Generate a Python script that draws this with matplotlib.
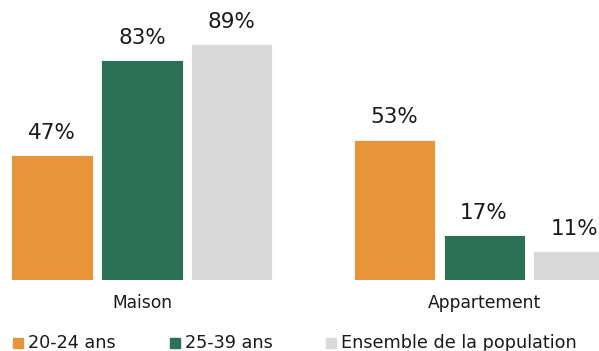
import numpy as np
import matplotlib.pyplot as plt
from matplotlib.patches import Rectangle

categories = ["Maison", "Appartement"]
series = ["20-24 ans", "25-39 ans", "Ensemble de la population"]
values_20_24 = [47, 53]
values_25_39 = [83, 17]
values_all = [89, 11]
colors = ["#E8943B", "#2A7155", "#D9D9D9"]

plt.rcParams['font.family'] = ['DejaVu Sans']

fig = plt.figure(figsize=(5.99, 3.51), dpi=100)
ax = fig.add_axes([0, 0.2023, 1, 0.7977])

x = np.arange(len(categories))
step = 0.263
width = 0.237
for i, (vals, col) in enumerate(zip([values_20_24, values_25_39, values_all], colors)):
    pos = x + (i - 1) * step
    ax.bar(pos, vals, width=width, color=col, edgecolor="white", linewidth=0.6)
    for p, v in zip(pos, vals):
        ax.text(p, v + 4.6, f"{v}%", ha="center", va="bottom", fontsize=15.5,
                color="#1a1a1a")

ax.set_xlim(-0.415, 1.336)
ax.set_ylim(0, 105.7)
ax.axis("off")

# category labels under each group
for xi, c in zip(x, categories):
    ax.text(xi, -8.7, c, ha="center", va="center", fontsize=12.3, color="#1a1a1a")

# legend along the bottom
legend_x = [13, 170, 326]
for lx, label, col in zip(legend_x, series, colors):
    fig.patches.append(Rectangle((lx / 599, (351 - 348) / 351), 10 / 599, 10 / 351,
                                 transform=fig.transFigure, color=col))
    fig.text((lx + 15) / 599, (351 - 343) / 351, label, ha="left", va="center",
             fontsize=12.7, color="#1a1a1a")

fig.savefig("out.png", dpi=100)
